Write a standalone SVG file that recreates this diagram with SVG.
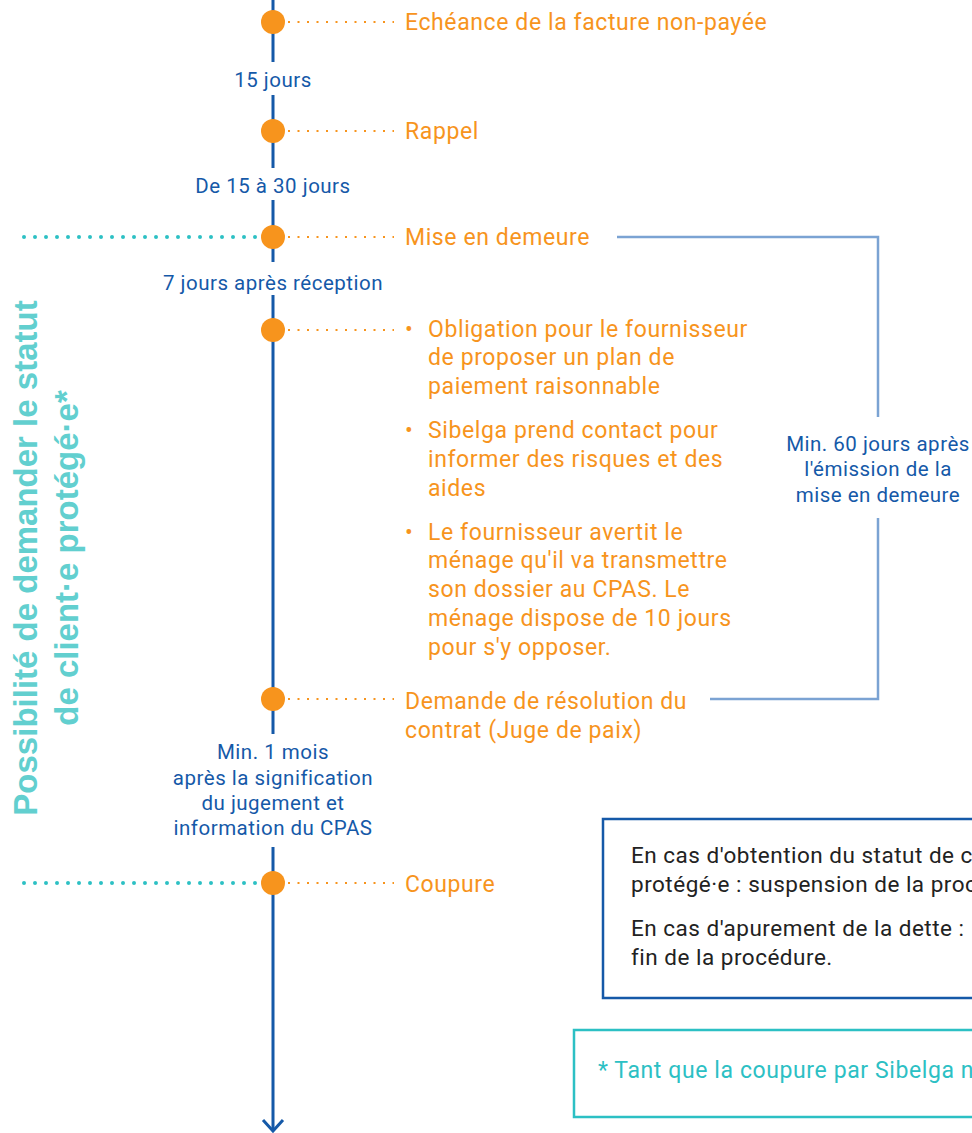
<svg xmlns="http://www.w3.org/2000/svg" width="972" height="1133" viewBox="0 0 972 1133">
<style>
.or{font-family:Roboto,"Liberation Sans",sans-serif;font-size:23px;letter-spacing:0.6px;fill:#f7941d}
.bl{font-family:Roboto,"Liberation Sans",sans-serif;font-size:20.5px;letter-spacing:0.5px;fill:#1559a8;text-anchor:middle}
.bx{font-family:Roboto,"Liberation Sans",sans-serif;font-size:22.5px;letter-spacing:0.5px;fill:#222}
.vt{font-family:"Liberation Sans",Arial,sans-serif;font-weight:bold;font-size:33px;fill:#62cfcf;text-anchor:middle}
.dot{stroke:#f7941d;stroke-width:2;stroke-dasharray:2 7.5;fill:none}
.tdot{stroke:#2cc0c4;stroke-width:4;stroke-linecap:round;stroke-dasharray:0 11;fill:none}
.axis{stroke:#1559a8;stroke-width:3;fill:none}
.br{stroke:#7ba3d3;stroke-width:2.5;fill:none}
.node{fill:#f7941d}
</style>
<g id="connectors">
<path class="axis" d="M273 0V62M273 95V168M273 200V262M273 295V734M273 847V1131"/>
<path class="axis" d="M263 1120L273 1131L283 1120"/>
<path class="tdot" d="M24 237H262M24 883H262"/>
<path class="dot" d="M288 22H394M288 131H394M288 237H394M288 330H394M288 699H394M288 883H394"/>
<path class="br" d="M617 237H878V417M878 518V699H710"/>
</g>
<g id="side-label">
<text class="vt" transform="translate(37,558) rotate(-90)">Possibilité de demander le statut</text>
<text class="vt" transform="translate(78,558) rotate(-90)">de client·e protégé·e*</text>
</g>
<g id="n1"><circle class="node" cx="273" cy="22" r="12"/><text class="or" x="405" y="30">Echéance de la facture non-payée</text></g>
<g id="d1"><text class="bl" x="273" y="87">15 jours</text></g>
<g id="n2"><circle class="node" cx="273" cy="131" r="12"/><text class="or" x="405" y="139">Rappel</text></g>
<g id="d2"><text class="bl" x="273" y="193">De 15 à 30 jours</text></g>
<g id="n3"><circle class="node" cx="273" cy="237" r="12"/><text class="or" x="405" y="245">Mise en demeure</text></g>
<g id="d3"><text class="bl" x="273" y="290">7 jours après réception</text></g>
<g id="n4"><circle class="node" cx="273" cy="330" r="12"/>
<text class="or" x="405" y="337">•</text>
<text class="or" x="428" y="337">Obligation pour le fournisseur</text>
<text class="or" x="428" y="365">de proposer un plan de</text>
<text class="or" x="428" y="394">paiement raisonnable</text>
<text class="or" x="405" y="438">•</text>
<text class="or" x="428" y="438">Sibelga prend contact pour</text>
<text class="or" x="428" y="467">informer des risques et des</text>
<text class="or" x="428" y="496">aides</text>
<text class="or" x="405" y="540">•</text>
<text class="or" x="428" y="540">Le fournisseur avertit le</text>
<text class="or" x="428" y="568">ménage qu'il va transmettre</text>
<text class="or" x="428" y="597">son dossier au CPAS. Le</text>
<text class="or" x="428" y="626">ménage dispose de 10 jours</text>
<text class="or" x="428" y="655">pour s'y opposer.</text>
</g>
<g id="n5"><circle class="node" cx="273" cy="699" r="12"/><text class="or" x="405" y="709">Demande de résolution du</text><text class="or" x="405" y="738">contrat (Juge de paix)</text></g>
<g id="d5"><text class="bl" x="273" y="759">Min. 1 mois</text><text class="bl" x="273" y="785">après la signification</text><text class="bl" x="273" y="810">du jugement et</text><text class="bl" x="273" y="835">information du CPAS</text></g>
<g id="n6"><circle class="node" cx="273" cy="883" r="12"/><text class="or" x="405" y="892">Coupure</text></g>
<g id="bracket-label"><text class="bl" x="878" y="451">Min. 60 jours après</text><text class="bl" x="878" y="476">l'émission de la</text><text class="bl" x="878" y="502">mise en demeure</text></g>
<g id="box1"><rect x="603" y="819" width="420" height="179" fill="none" stroke="#1559a8" stroke-width="2.5"/>
<text class="bx" x="631" y="863">En cas d'obtention du statut de client·e</text>
<text class="bx" x="631" y="892">protégé·e : suspension de la procédure.</text>
<text class="bx" x="631" y="936">En cas d'apurement de la dette :</text>
<text class="bx" x="631" y="965">fin de la procédure.</text>
</g>
<g id="box2"><rect x="574" y="1030" width="440" height="87" fill="none" stroke="#2cc0c4" stroke-width="2.5"/>
<text x="598" y="1078" font-family="Roboto,'Liberation Sans',sans-serif" font-size="23" letter-spacing="0.6" fill="#2cc0c4">* Tant que la coupure par Sibelga n'a pas eu lieu.</text>
</g>
</svg>
